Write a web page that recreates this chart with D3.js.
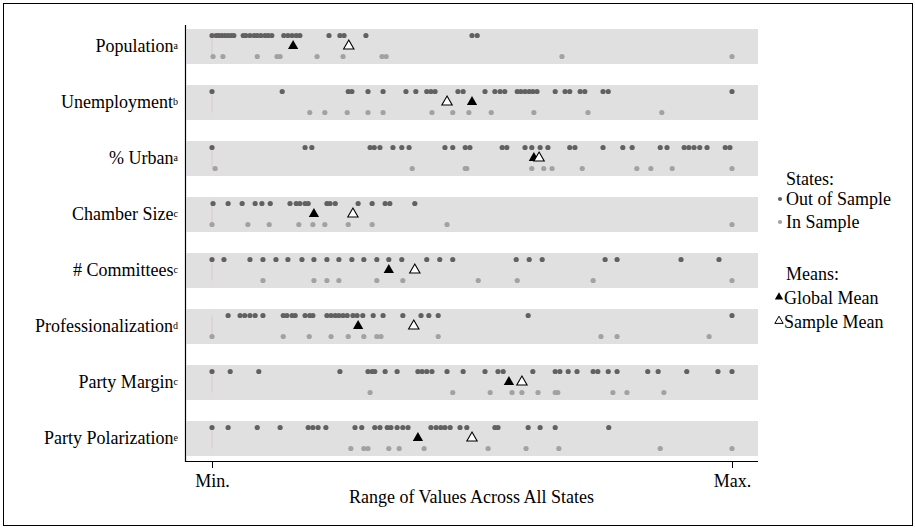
<!DOCTYPE html>
<html>
<head>
<meta charset="utf-8">
<script src="https://cdn.jsdelivr.net/npm/d3@7"></script>
<style>
  body { margin: 0; background: #fff; }
  svg { font-family: "Liberation Serif", "Times New Roman", serif; }
</style>
</head>
<body>
<svg id="chart"></svg>
<script>
// values are % of the range across all states (0 = min, 100 = max)
const categories = ['Population', 'Unemployment', '% Urban', 'Chamber Size', '# Committees', 'Professionalization', 'Party Margin', 'Party Polarization'];
const notes = ['a', 'b', 'a', 'c', 'c', 'd', 'c', 'e'];

const outOfSample = [
  [0, 0.8, 1.3, 1.9, 2.5, 3.1, 3.7, 4.2, 6.0, 6.5, 7.3, 8.1, 8.7, 9.4, 10.2, 10.8, 11.5, 13.8, 14.6, 15.4, 16.2, 16.9, 22.5, 24.6, 25.4, 29.6, 50.0, 51.0],
  [0, 13.5, 26.2, 26.9, 30.0, 32.9, 37.3, 39.2, 41.3, 42.1, 42.9, 47.3, 48.3, 52.5, 54.4, 55.4, 56.3, 58.7, 59.4, 60.2, 61.0, 61.7, 62.5, 66.0, 67.9, 68.8, 70.8, 71.7, 75.2, 76.2, 100],
  [0, 17.9, 19.2, 30.4, 31.2, 32.3, 34.8, 36.5, 37.9, 44.8, 46.3, 48.7, 49.6, 55.8, 56.7, 60.2, 61.5, 63.1, 64.6, 68.8, 69.8, 75.2, 79.0, 80.8, 86.2, 87.5, 90.8, 91.7, 92.7, 93.8, 95.2, 98.7, 99.6],
  [0.2, 3.1, 5.8, 8.3, 9.6, 11.2, 15.0, 16.2, 16.9, 17.9, 18.5, 22.1, 22.7, 23.7, 28.1, 30.8, 33.3, 34.2, 39.0],
  [0, 2.3, 7.3, 9.8, 12.3, 14.6, 17.3, 19.6, 22.1, 24.4, 26.9, 29.2, 31.7, 34.0, 36.5, 41.3, 43.8, 46.3, 58.5, 61.0, 63.5, 75.6, 77.9, 90.2, 97.5],
  [3.1, 5.4, 6.3, 7.3, 8.3, 9.8, 13.7, 14.4, 15.4, 16.0, 17.9, 18.8, 19.4, 22.1, 22.9, 23.7, 24.4, 25.2, 26.0, 27.1, 27.9, 29.0, 31.0, 32.9, 36.7, 40.2, 41.7, 43.5, 60.8, 100],
  [0, 3.5, 9.0, 24.6, 30.0, 30.8, 31.3, 33.3, 35.6, 39.6, 40.4, 41.3, 42.3, 45.2, 48.3, 52.5, 55.0, 56.0, 61.7, 66.0, 66.9, 68.5, 70.2, 73.3, 74.2, 76.2, 77.9, 83.8, 85.8, 91.3, 97.3, 100],
  [0, 3.1, 8.7, 13.1, 18.5, 19.4, 20.4, 21.9, 27.5, 28.8, 31.3, 32.3, 33.7, 34.4, 35.6, 36.7, 37.7, 42.1, 43.1, 44.0, 44.8, 45.8, 47.7, 49.0, 54.4, 55.0, 60.8, 63.1, 66.0, 76.3]
];

const inSample = [
  [0.2, 2.1, 8.7, 12.5, 13.1, 20.2, 25.2, 32.7, 33.5, 67.3, 100],
  [18.8, 21.7, 26.0, 30.0, 32.9, 42.3, 46.3, 49.4, 53.7, 61.9, 72.3, 86.5],
  [0.6, 38.5, 48.7, 49.0, 61.5, 63.8, 65.4, 71.2, 81.7, 84.4, 88.5, 100],
  [0, 6.9, 11.0, 16.7, 19.4, 21.7, 26.2, 30.8, 45.2, 100],
  [9.8, 19.6, 22.1, 24.4, 31.7, 36.7, 51.2, 58.7, 73.3, 100],
  [0, 13.7, 18.7, 22.9, 26.2, 29.2, 31.7, 32.5, 43.5, 74.8, 77.9, 95.6],
  [30.4, 46.3, 53.5, 57.7, 59.6, 62.7, 66.0, 66.5, 77.1, 79.8, 86.9],
  [26.7, 29.2, 30.0, 34.0, 36.0, 40.8, 53.1, 60.4, 66.7, 86.2, 100]
];

const globalMean = [15.6, 50.0, 61.9, 19.6, 34.0, 28.1, 57.1, 39.6];
const sampleMean = [26.3, 45.2, 62.9, 27.1, 39.0, 38.8, 59.6, 50.0];

const tickLabels = ['Min.', 'Max.'];
const xTitle = 'Range of Values Across All States';
const legendStates = ['Out of Sample', 'In Sample'];
const legendMeans = ['Global Mean', 'Sample Mean'];

class DotChart {
  constructor(config, data) {
    this.config = {
      parent: config.parent,
      width: config.width || 915,
      height: config.height || 528
    };
    this.data = data;
    this.init();
  }

  init() {
    let self = this;

    self.svg = d3.select(self.config.parent)
      .attr('width', self.config.width)
      .attr('height', self.config.height);

    // outer frame of the figure
    self.svg.append('rect')
      .attr('x', 3.5).attr('y', 3.5)
      .attr('width', 909).attr('height', 522)
      .attr('fill', 'none').attr('stroke', '#000');

    self.xscale = d3.scaleLinear().domain([0, 100]).range([212, 732]);
    self.yscale = d3.scaleBand().domain(categories).range([29, 456]).paddingInner(0.375);
    // rows inside one band
    self.rowscale = d3.scalePoint().domain(['out', 'mean', 'in']).range([6.5, 27.5]);

    self.chart = self.svg.append('g');
    self.render();
  }

  render() {
    let self = this;
    const x = self.xscale, y = self.yscale, row = self.rowscale;

    const band = self.chart.selectAll('.band')
      .data(self.data)
      .join('g')
      .attr('class', 'band')
      .attr('transform', d => `translate(0, ${y(d.name)})`);

    band.append('rect')
      .attr('x', 186.5)
      .attr('width', 758 - 186.5)
      .attr('height', y.bandwidth())
      .attr('fill', '#e0e0e0');

    band.append('line')
      .attr('x1', x(0)).attr('x2', x(0))
      .attr('y1', row('out')).attr('y2', row('in'))
      .attr('stroke', '#dcc6ca').attr('stroke-width', 1);

    band.selectAll('.out')
      .data(d => d.out)
      .join('circle')
      .attr('class', 'out')
      .attr('cx', v => x(v))
      .attr('cy', row('out'))
      .attr('r', 2.6)
      .attr('fill', '#616161');

    band.selectAll('.in')
      .data(d => d.in)
      .join('circle')
      .attr('class', 'in')
      .attr('cx', v => x(v))
      .attr('cy', row('in'))
      .attr('r', 2.6)
      .attr('fill', '#a2a2a2');

    const tri = d3.symbol().type(d3.symbolTriangle).size(46);

    band.append('path')
      .attr('d', tri)
      .attr('transform', d => `translate(${x(d.global)}, ${row('mean')})`)
      .attr('fill', '#000');

    band.append('path')
      .attr('d', tri)
      .attr('transform', d => `translate(${x(d.sample)}, ${row('mean')})`)
      .attr('fill', '#fff')
      .attr('stroke', '#000')
      .attr('stroke-width', 1.1);

    // y labels with superscript notes
    const yaxis = d3.axisLeft(y).tickSize(0).tickPadding(8);
    self.yaxis_group = self.svg.append('g')
      .attr('transform', 'translate(186, 0)')
      .call(yaxis);
    self.yaxis_group.select('.domain').remove();
    self.yaxis_group.selectAll('text')
      .attr('font-family', '"Liberation Serif", serif')
      .attr('font-size', 18)
      .attr('fill', '#000')
      .text(null)
      .each(function (c) {
        const t = d3.select(this);
        t.append('tspan').text(c);
        t.append('tspan').attr('font-size', 10).attr('dy', -3).text(notes[categories.indexOf(c)]);
      });

    // x axis
    const xaxis = d3.axisBottom(x).tickValues([0, 100])
      .tickFormat((d, i) => tickLabels[i])
      .tickSize(7).tickPadding(6);
    self.xaxis_group = self.svg.append('g')
      .attr('transform', 'translate(0, 461)')
      .call(xaxis);
    self.xaxis_group.select('.domain').remove();
    self.xaxis_group.selectAll('line').attr('stroke', '#000');
    self.xaxis_group.selectAll('text')
      .attr('font-family', '"Liberation Serif", serif')
      .attr('font-size', 18)
      .attr('fill', '#000');

    // panel lines (left + bottom)
    self.svg.append('path')
      .attr('d', 'M185.5,25V461.5H758')
      .attr('fill', 'none')
      .attr('stroke', '#000')
      .attr('stroke-width', 1.2);

    self.svg.append('text')
      .attr('x', (185 + 758) / 2)
      .attr('y', 503)
      .attr('text-anchor', 'middle')
      .attr('font-size', 18)
      .text(xTitle);

    // legend
    const lg = self.svg.append('g').attr('font-size', 18);
    lg.append('text').attr('x', 786).attr('y', 185).text('States:');
    legendStates.forEach((s, i) => {
      const yy = 205 + i * 23;
      lg.append('circle').attr('cx', 780).attr('cy', yy - 6).attr('r', 2.1)
        .attr('fill', i == 0 ? '#616161' : '#a2a2a2');
      lg.append('text').attr('x', 786).attr('y', yy).text(s);
    });
    lg.append('text').attr('x', 786).attr('y', 280).text('Means:');
    const ltri = d3.symbol().type(d3.symbolTriangle).size(30);
    legendMeans.forEach((s, i) => {
      const yy = 304 + i * 24;
      lg.append('path').attr('d', ltri)
        .attr('transform', `translate(779, ${yy - 7})`)
        .attr('fill', i == 0 ? '#000' : '#fff')
        .attr('stroke', i == 0 ? 'none' : '#000')
        .attr('stroke-width', 1);
      lg.append('text').attr('x', 784).attr('y', yy).text(s);
    });
  }
}

const rows = categories.map((c, i) => ({
  name: c,
  out: outOfSample[i],
  in: inSample[i],
  global: globalMean[i],
  sample: sampleMean[i]
}));

new DotChart({ parent: '#chart', width: 915, height: 528 }, rows);
</script>
</body>
</html>
